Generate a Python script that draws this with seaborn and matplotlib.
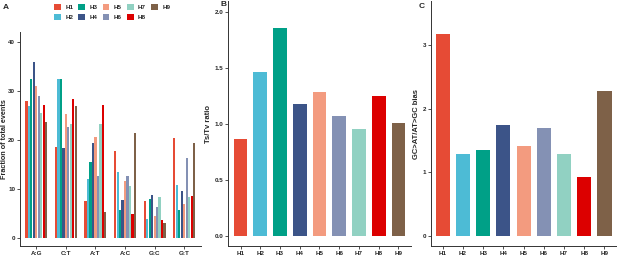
import numpy as np
import pandas as pd
import seaborn as sns
import matplotlib
matplotlib.use('Agg')
from matplotlib import pyplot as plt
from matplotlib.patches import Patch

# haplotypes and colours (npg palette)
haplotypes = ['H1', 'H2', 'H3', 'H4', 'H5', 'H6', 'H7', 'H8', 'H9']
hap_colors = ['#E64B35', '#4DBBD5', '#00A087', '#3C5488', '#F39B7F',
              '#8491B4', '#91D1C2', '#DC0000', '#7E6148']

# panel A: fraction of total events per mutation type
mutation_types = ['A:G', 'C:T', 'A:T', 'A:C', 'G:C', 'G:T']
frac_AG = [27.9, 26.9, 32.4, 35.9, 31.0, 28.9, 25.5, 27.1, 23.6]
frac_CT = [18.6, 32.4, 32.4, 18.4, 25.2, 22.7, 23.3, 28.4, 26.9]
frac_AT = [7.6, 12.1, 15.4, 19.4, 20.6, 12.7, 23.3, 27.1, 5.3]
frac_AC = [17.8, 13.5, 5.6, 7.7, 11.5, 12.7, 10.6, 4.9, 21.5]
frac_GC = [7.6, 3.9, 8.0, 8.7, 4.5, 6.3, 8.4, 3.7, 3.1]
frac_GT = [20.3, 10.7, 5.6, 9.6, 6.8, 16.3, 8.4, 8.6, 19.3]

# panel B: Ts/Tv ratio
tstv_ratio = [0.865, 1.46, 1.85, 1.18, 1.28, 1.07, 0.95, 1.245, 1.01]

# panel C: GC>AT / AT>GC bias
gc_bias = [3.17, 1.29, 1.345, 1.735, 1.41, 1.69, 1.28, 0.92, 2.27]

sns.set_style('white')
plt.rcParams['font.family'] = ['Liberation Sans', 'DejaVu Sans']
plt.rcParams['font.weight'] = 'bold'

frac_lists = [frac_AG, frac_CT, frac_AT, frac_AC, frac_GC, frac_GT]
rows = []
for mt, vals in zip(mutation_types, frac_lists):
    for h, v in zip(haplotypes, vals):
        rows.append({'mutation': mt, 'hap': h, 'frac': v})
df_a = pd.DataFrame(rows)
df_b = pd.DataFrame({'hap': haplotypes, 'ratio': tstv_ratio})
df_c = pd.DataFrame({'hap': haplotypes, 'bias': gc_bias})

fig = plt.figure(figsize=(6.17, 2.56), dpi=100)
ax_a = fig.add_axes([0.0324, 0.039, 0.2926, 0.837])
ax_b = fig.add_axes([0.370, 0.039, 0.2956, 0.957])
ax_c = fig.add_axes([0.6985, 0.039, 0.3015, 0.957])

tick_fs = 4.5
label_fs = 5.5
spine_col = '#333333'

sns.barplot(data=df_a, x='mutation', y='frac', hue='hap', hue_order=haplotypes,
            palette=hap_colors, width=0.75, gap=0.1, linewidth=0, ax=ax_a,
            legend=False, errorbar=None, saturation=1)
ax_a.set_ylim(-1.7, 42.1)
ax_a.set_xlim(-0.55, 5.55)
ax_a.set_yticks([0, 10, 20, 30, 40])
ax_a.set_ylabel('Fraction of total events', fontsize=5.2, fontweight='bold')
ax_a.yaxis.set_label_coords(-0.066, 0.5)
ax_a.set_xlabel('')

sns.barplot(data=df_b, x='hap', y='ratio', hue='hap', palette=hap_colors,
            width=0.7, linewidth=0, ax=ax_b, legend=False, errorbar=None,
            saturation=1)
ax_b.set_ylim(-0.092, 2.095)
ax_b.set_xlim(-0.62, 8.62)
ax_b.set_yticks([0, 0.5, 1.0, 1.5, 2.0])
ax_b.set_yticklabels(['0.0', '0.5', '1.0', '1.5', '2.0'])
ax_b.set_ylabel('Ts/Tv ratio', fontsize=label_fs, fontweight='bold', labelpad=2)
ax_b.set_xlabel('')

sns.barplot(data=df_c, x='hap', y='bias', hue='hap', palette=hap_colors,
            width=0.7, linewidth=0, ax=ax_c, legend=False, errorbar=None,
            saturation=1)
ax_c.set_ylim(-0.16, 3.69)
ax_c.set_xlim(-0.58, 8.62)
ax_c.set_yticks([0, 1, 2, 3])
ax_c.set_ylabel('GC>AT/AT>GC bias', fontsize=label_fs, fontweight='bold', labelpad=2)
ax_c.set_xlabel('')

for ax in (ax_a, ax_b, ax_c):
    sns.despine(ax=ax)
    for s in ('left', 'bottom'):
        ax.spines[s].set_color(spine_col)
        ax.spines[s].set_linewidth(0.7)
    ax.tick_params(axis='both', labelsize=tick_fs, length=2, width=0.6,
                   color=spine_col, pad=1.5, left=True, bottom=True)
    for lab in ax.get_xticklabels() + ax.get_yticklabels():
        lab.set_fontweight('bold')

# legend for panel A
handles = [Patch(facecolor=c, edgecolor='none', label=h)
           for h, c in zip(haplotypes, hap_colors)]
fig.legend(handles=handles, ncol=5, loc='center', bbox_to_anchor=(0.182, 0.953),
           frameon=False, handlelength=1.1, handleheight=1.1,
           columnspacing=0.8, handletextpad=0.7, labelspacing=0.5,
           borderpad=0, prop={'weight': 'bold', 'size': tick_fs})

# panel letters
fig.text(0.004, 0.985, 'A', fontsize=6, fontweight='bold', va='top')
fig.text(0.358, 0.997, 'B', fontsize=6, fontweight='bold', va='top')
fig.text(0.678, 0.99, 'C', fontsize=6, fontweight='bold', va='top')

fig.savefig('out.png', dpi=100)
